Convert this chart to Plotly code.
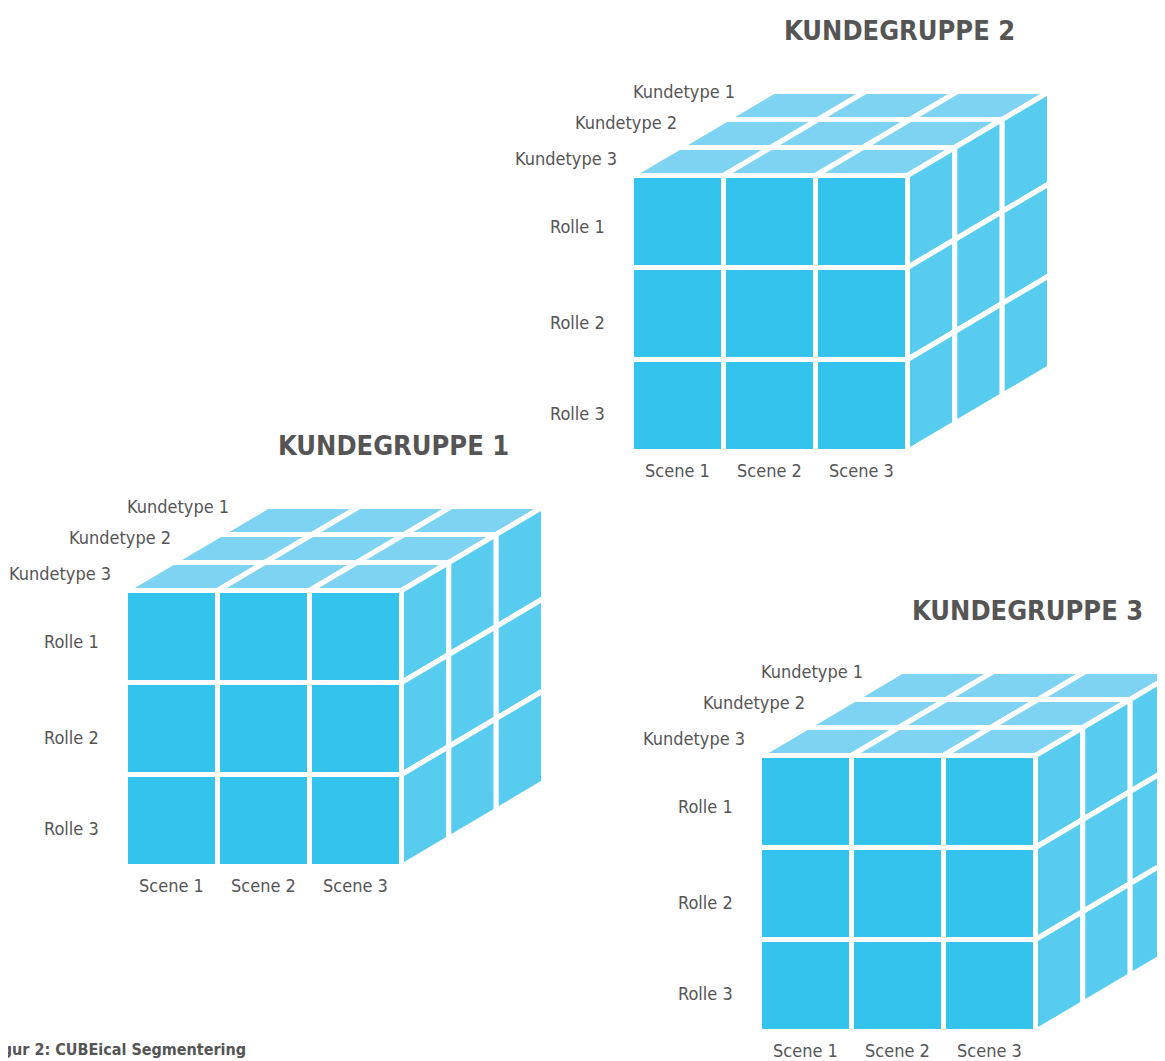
import plotly.graph_objects as go

# ---- content ----
groups = ["KUNDEGRUPPE 1", "KUNDEGRUPPE 2", "KUNDEGRUPPE 3"]
scenes = ["Scene 1", "Scene 2", "Scene 3"]
roller = ["Rolle 1", "Rolle 2", "Rolle 3"]
kundetyper = ["Kundetype 1", "Kundetype 2", "Kundetype 3"]
caption = "Figur 2: CUBEical Segmentering"

# ---- layout constants (pixel space of the picture) ----
W, H = 1165, 1061
PAGE_MARGIN = 8              # default body margin of the html page
origin_x = [128, 634, 762]   # visible front-top-left corner of each cube
origin_y = [593, 178, 758]
GAP = 5
FACE = 271.0 + GAP           # white cell borders shave GAP/2 off each outer edge
CELL = FACE / 3
DEPTH_DX, DEPTH_DY = 142.0 / 3, -84.0 / 3

COL_FRONT = "#33C3EC"
COL_SIDE = "#58CCEF"
COL_TOP = "#7ED3F3"
TXT = "#555555"
LABEL_FONT = "DejaVu Sans Condensed, Liberation Sans Narrow, Liberation Sans, sans-serif"
TITLE_FONT = "DejaVu Sans Condensed, Liberation Sans Narrow, Liberation Sans, sans-serif"
LABEL_SIZE = 18

KT_OFF_X = [103, 45, -15]
KT_OFF_Y = [-87, -56, -20]
ROLLE_OFF_X = -27
ROLLE_OFF_Y = [48, 144, 235]
SCENE_OFF_Y = 292
TITLE_OFF = (265, -148)

fig = go.Figure()


def poly(pts, color):
    xs = [p[0] for p in pts] + [pts[0][0]]
    ys = [p[1] for p in pts] + [pts[0][1]]
    fig.add_trace(go.Scatter(x=xs, y=ys, mode="lines", fill="toself",
                             fillcolor=color, line=dict(color="white", width=GAP),
                             hoverinfo="skip", showlegend=False))


annotations = []
for c, g in enumerate(groups):
    vx, vy = origin_x[c], origin_y[c]
    ox, oy = vx - GAP / 2, vy - GAP / 2
    # top face
    for k in range(3):
        for i in range(3):
            x0 = ox + i * CELL + k * DEPTH_DX
            y0 = oy + k * DEPTH_DY
            poly([(x0, y0), (x0 + CELL, y0), (x0 + CELL + DEPTH_DX, y0 + DEPTH_DY),
                  (x0 + DEPTH_DX, y0 + DEPTH_DY)], COL_TOP)
    # side face
    for k in range(3):
        for j in range(3):
            x0 = ox + FACE + k * DEPTH_DX
            y0 = oy + j * CELL + k * DEPTH_DY
            poly([(x0, y0), (x0 + DEPTH_DX, y0 + DEPTH_DY),
                  (x0 + DEPTH_DX, y0 + DEPTH_DY + CELL), (x0, y0 + CELL)], COL_SIDE)
    # front face
    for i in range(3):
        for j in range(3):
            x0 = ox + i * CELL
            y0 = oy + j * CELL
            poly([(x0, y0), (x0 + CELL, y0), (x0 + CELL, y0 + CELL), (x0, y0 + CELL)], COL_FRONT)

    # labels
    for n, kt in enumerate(kundetyper):
        annotations.append(dict(x=vx + KT_OFF_X[n], y=vy + KT_OFF_Y[n], text=kt,
                                xanchor="right", yanchor="middle", showarrow=False,
                                font=dict(family=LABEL_FONT, size=LABEL_SIZE, color=TXT)))
    for n, r in enumerate(roller):
        annotations.append(dict(x=vx + ROLLE_OFF_X, y=vy + ROLLE_OFF_Y[n], text=r,
                                xanchor="right", yanchor="middle", showarrow=False,
                                font=dict(family=LABEL_FONT, size=LABEL_SIZE, color=TXT)))
    for n, s in enumerate(scenes):
        annotations.append(dict(x=ox + (n + 0.5) * CELL, y=vy + SCENE_OFF_Y, text=s,
                                xanchor="center", yanchor="middle", showarrow=False,
                                font=dict(family=LABEL_FONT, size=LABEL_SIZE, color=TXT)))
    annotations.append(dict(x=vx + TITLE_OFF[0], y=vy + TITLE_OFF[1], text="<b>%s</b>" % g,
                            xanchor="center", yanchor="middle", showarrow=False,
                            font=dict(family=TITLE_FONT, size=27, color=TXT)))

annotations.append(dict(x=248, y=1049, text="<b>%s</b>" % caption, xanchor="right",
                        yanchor="middle", showarrow=False,
                        font=dict(family=TITLE_FONT, size=16, color=TXT)))

fig.update_layout(
    width=W, height=H,
    margin=dict(l=0, r=0, t=0, b=0),
    paper_bgcolor="white", plot_bgcolor="white",
    xaxis=dict(range=[PAGE_MARGIN, W + PAGE_MARGIN], visible=False, fixedrange=True),
    yaxis=dict(range=[H + PAGE_MARGIN, PAGE_MARGIN], visible=False, fixedrange=True),
    annotations=annotations,
    showlegend=False,
)

fig.write_html("out.html")
